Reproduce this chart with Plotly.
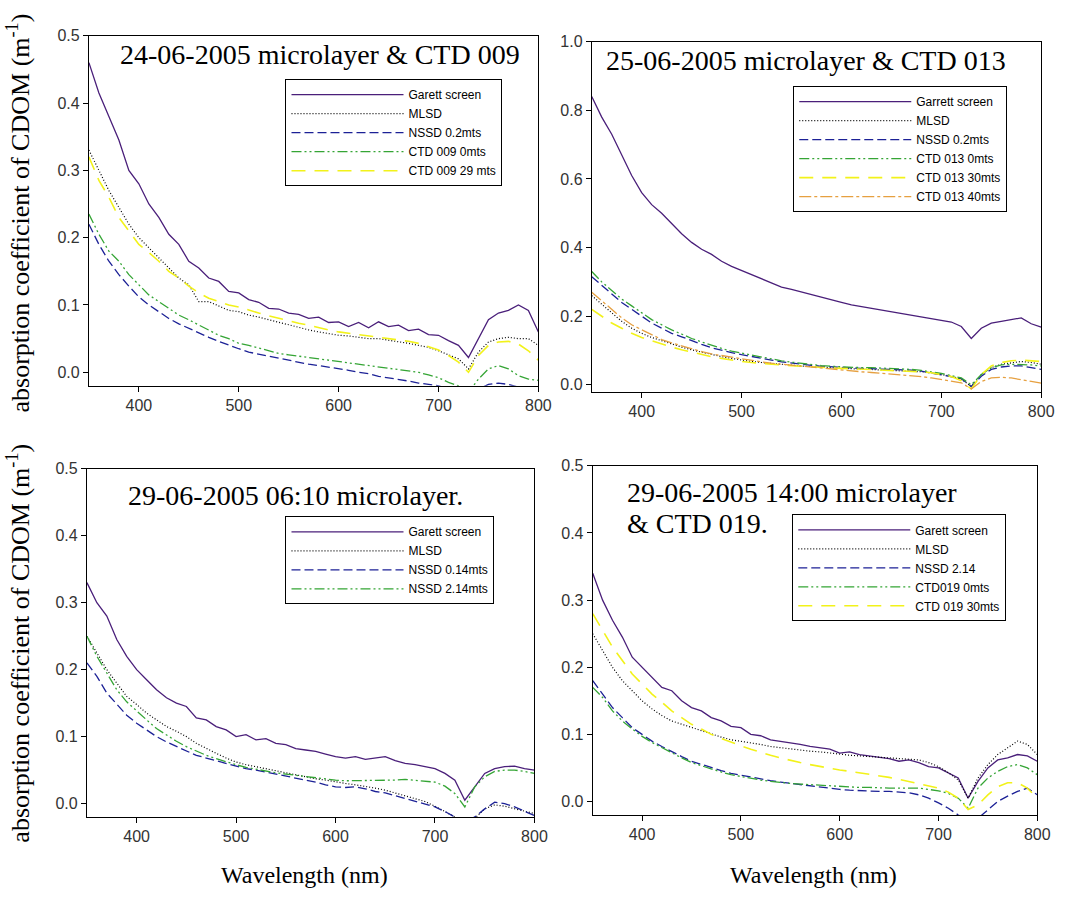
import plotly.graph_objects as go

# ---------------- data (every 10 nm) ----------------
wavelength = [350, 360, 370, 380, 390, 400, 410, 420, 430, 440,
              450, 460, 470, 480, 490, 500, 510, 520, 530, 540,
              550, 560, 570, 580, 590, 600, 610, 620, 630, 640,
              650, 660, 670, 680, 690, 700, 710, 720, 730, 740,
              750, 760, 770, 780, 790, 800]

# Panel 1: 24-06-2005 microlayer & CTD 009
p1_garett = [0.46, 0.415, 0.38, 0.345, 0.30, 0.28, 0.25, 0.23, 0.205, 0.19,
             0.165, 0.155, 0.14, 0.135, 0.12, 0.118, 0.108, 0.104, 0.095, 0.094,
             0.088, 0.086, 0.08, 0.082, 0.074, 0.075, 0.068, 0.074, 0.066, 0.075,
             0.068, 0.07, 0.062, 0.064, 0.056, 0.055, 0.047, 0.04, 0.022, 0.05,
             0.078, 0.088, 0.092, 0.1, 0.092, 0.06]
p1_mlsd = [0.33, 0.30, 0.27, 0.245, 0.22, 0.20, 0.185, 0.17, 0.155, 0.14,
           0.13, 0.105, 0.105, 0.098, 0.092, 0.09, 0.085, 0.082, 0.078, 0.074,
           0.07, 0.066, 0.063, 0.06, 0.057, 0.055, 0.054, 0.052, 0.05, 0.05,
           0.048, 0.045, 0.043, 0.04, 0.037, 0.032, 0.026, 0.02, 0.005, 0.03,
           0.045, 0.05, 0.052, 0.05, 0.05, 0.04]
p1_nssd = [0.22, 0.19, 0.165, 0.145, 0.128, 0.112, 0.1, 0.09, 0.08, 0.072,
           0.065, 0.058, 0.052, 0.046, 0.04, 0.035, 0.03, 0.027, 0.023, 0.02,
           0.018, 0.015, 0.012, 0.01, 0.008, 0.006, 0.003, 0.0, -0.002, -0.006,
           -0.008, -0.01, -0.013, -0.016, -0.018, -0.02, -0.025, -0.03, -0.035, -0.025,
           -0.018, -0.016, -0.018, -0.022, -0.025, -0.025]
p1_ctd0 = [0.235, 0.205, 0.18, 0.165, 0.145, 0.13, 0.115, 0.105, 0.095, 0.085,
           0.078, 0.07, 0.062, 0.055, 0.05, 0.043, 0.04, 0.036, 0.032, 0.028,
           0.026, 0.024, 0.022, 0.02, 0.018, 0.017, 0.014, 0.013, 0.011, 0.008,
           0.006, 0.004, 0.002, 0.0, -0.004, -0.008, -0.015, -0.02, -0.03, -0.01,
           0.005, 0.01, 0.005, -0.005, -0.01, -0.012]
p1_ctd29 = [0.32, 0.285, 0.26, 0.23, 0.21, 0.19, 0.178, 0.165, 0.15, 0.14,
            0.128, 0.118, 0.11, 0.105, 0.1, 0.097, 0.092, 0.088, 0.084, 0.08,
            0.076, 0.073, 0.07, 0.066, 0.063, 0.06, 0.058, 0.057, 0.055, 0.053,
            0.05, 0.048, 0.046, 0.043, 0.038, 0.033, 0.025, 0.015, 0.0, 0.025,
            0.04, 0.045, 0.046, 0.042, 0.032, 0.018]

# Panel 2: 25-06-2005 microlayer & CTD 013
p2_garett = [0.84, 0.78, 0.73, 0.67, 0.61, 0.56, 0.525, 0.5, 0.47, 0.44,
             0.415, 0.395, 0.38, 0.36, 0.345, 0.333, 0.322, 0.31, 0.298, 0.285,
             0.278, 0.27, 0.262, 0.255, 0.248, 0.24, 0.233, 0.228, 0.224, 0.218,
             0.213, 0.208, 0.205, 0.2, 0.195, 0.19, 0.183, 0.17, 0.135, 0.165,
             0.18, 0.185, 0.19, 0.195, 0.178, 0.168]
p2_mlsd = [0.26, 0.235, 0.21, 0.185, 0.165, 0.15, 0.138, 0.128, 0.118, 0.11,
           0.102, 0.095, 0.088, 0.082, 0.077, 0.072, 0.068, 0.065, 0.062, 0.059,
           0.057, 0.055, 0.053, 0.051, 0.05, 0.048, 0.047, 0.046, 0.045, 0.044,
           0.043, 0.042, 0.04, 0.038, 0.035, 0.03, 0.025, 0.017, -0.005, 0.03,
           0.05, 0.06, 0.065, 0.068, 0.065, 0.06]
p2_nssd = [0.315, 0.29, 0.265, 0.24, 0.22, 0.2, 0.18, 0.165, 0.15, 0.14,
           0.128, 0.118, 0.108, 0.1, 0.094, 0.088, 0.082, 0.077, 0.072, 0.067,
           0.063, 0.06, 0.057, 0.054, 0.052, 0.05, 0.049, 0.048, 0.047, 0.046,
           0.046, 0.045, 0.043, 0.04, 0.035, 0.03, 0.025, 0.018, -0.005, 0.025,
           0.045, 0.052, 0.055, 0.055, 0.05, 0.045]
p2_ctd0 = [0.33, 0.30, 0.275, 0.25, 0.23, 0.21, 0.19, 0.175, 0.16, 0.148,
           0.135, 0.125, 0.115, 0.106, 0.098, 0.092, 0.086, 0.08, 0.075, 0.07,
           0.066, 0.062, 0.059, 0.056, 0.054, 0.052, 0.051, 0.05, 0.05, 0.049,
           0.048, 0.047, 0.045, 0.042, 0.038, 0.033, 0.027, 0.02, 0.0, 0.03,
           0.05, 0.058, 0.06, 0.06, 0.058, 0.055]
p2_ctd30 = [0.22, 0.2, 0.18, 0.165, 0.15, 0.138, 0.128, 0.118, 0.11, 0.102,
            0.095, 0.088, 0.082, 0.077, 0.072, 0.068, 0.065, 0.062, 0.06, 0.058,
            0.056, 0.054, 0.052, 0.05, 0.049, 0.048, 0.047, 0.046, 0.045, 0.044,
            0.043, 0.042, 0.04, 0.038, 0.035, 0.03, 0.024, 0.012, -0.012, 0.03,
            0.055, 0.065, 0.07, 0.072, 0.07, 0.068]
p2_ctd40 = [0.27, 0.245, 0.22, 0.195, 0.175, 0.16, 0.145, 0.132, 0.122, 0.113,
            0.105, 0.097, 0.09, 0.085, 0.08, 0.075, 0.071, 0.067, 0.063, 0.06,
            0.057, 0.054, 0.051, 0.048, 0.045, 0.043, 0.04, 0.038, 0.036, 0.034,
            0.032, 0.03, 0.027, 0.024, 0.02, 0.016, 0.012, 0.006, -0.012, 0.01,
            0.02, 0.022, 0.02, 0.016, 0.01, 0.005]

# Panel 3: 29-06-2005 06:10 microlayer
p3_garett = [0.33, 0.3, 0.28, 0.245, 0.22, 0.2, 0.185, 0.17, 0.158, 0.15,
             0.145, 0.128, 0.125, 0.115, 0.11, 0.1, 0.103, 0.095, 0.097, 0.09,
             0.088, 0.082, 0.08, 0.078, 0.074, 0.07, 0.068, 0.07, 0.066, 0.068,
             0.07, 0.064, 0.06, 0.058, 0.055, 0.052, 0.045, 0.035, 0.005, 0.025,
             0.045, 0.052, 0.055, 0.056, 0.052, 0.05]
p3_mlsd = [0.25, 0.225, 0.2, 0.18, 0.16, 0.148, 0.135, 0.125, 0.115, 0.108,
           0.1, 0.09, 0.082, 0.075, 0.068, 0.062, 0.058, 0.055, 0.052, 0.048,
           0.046, 0.043, 0.04, 0.037, 0.035, 0.032, 0.03, 0.028, 0.026, 0.023,
           0.02, 0.016, 0.012, 0.008, 0.003, -0.004, -0.012, -0.02, -0.03, -0.022,
           -0.008, -0.002, -0.004, -0.008, -0.012, -0.015]
p3_nssd014 = [0.21, 0.19, 0.165, 0.148, 0.132, 0.12, 0.11, 0.1, 0.092, 0.085,
              0.078, 0.072, 0.068, 0.064, 0.06, 0.056, 0.052, 0.05, 0.047, 0.044,
              0.042, 0.038, 0.035, 0.032, 0.028, 0.025, 0.024, 0.025, 0.022, 0.018,
              0.016, 0.012, 0.008, 0.004, 0.0, -0.005, -0.012, -0.02, -0.028, -0.02,
              -0.008, 0.002, 0.0, -0.005, -0.012, -0.018]
p3_nssd214 = [0.25, 0.22, 0.195, 0.17, 0.152, 0.138, 0.125, 0.112, 0.102, 0.093,
              0.085, 0.078, 0.072, 0.067, 0.062, 0.058, 0.054, 0.051, 0.048, 0.046,
              0.044, 0.042, 0.04, 0.038, 0.036, 0.035, 0.034, 0.034, 0.035, 0.034,
              0.034, 0.035, 0.036, 0.035, 0.034, 0.032, 0.026, 0.015, -0.005, 0.025,
              0.04, 0.048, 0.05, 0.05, 0.048, 0.045]

# Panel 4: 29-06-2005 14:00 microlayer & CTD 019
p4_garett = [0.34, 0.3, 0.27, 0.245, 0.215, 0.2, 0.185, 0.17, 0.165, 0.15,
             0.14, 0.135, 0.125, 0.12, 0.112, 0.11, 0.1, 0.098, 0.092, 0.09,
             0.088, 0.085, 0.082, 0.08, 0.078, 0.072, 0.074, 0.07, 0.068, 0.066,
             0.064, 0.06, 0.062, 0.058, 0.052, 0.05, 0.043, 0.035, 0.005, 0.03,
             0.05, 0.062, 0.065, 0.07, 0.068, 0.06]
p4_mlsd = [0.25, 0.225, 0.2, 0.18, 0.165, 0.15, 0.138, 0.128, 0.12, 0.115,
           0.11, 0.105, 0.1, 0.096, 0.092, 0.09, 0.087, 0.085, 0.082, 0.08,
           0.078, 0.077, 0.075, 0.074, 0.072, 0.07, 0.069, 0.068, 0.067, 0.066,
           0.065, 0.064, 0.063, 0.062, 0.058, 0.052, 0.043, 0.032, 0.005, 0.035,
           0.055, 0.07, 0.08, 0.09, 0.085, 0.07]
p4_nssd = [0.18, 0.16, 0.14, 0.125, 0.11, 0.1, 0.09, 0.082, 0.074, 0.067,
           0.06, 0.055, 0.05, 0.046, 0.042, 0.039, 0.036, 0.033, 0.031, 0.029,
           0.027, 0.025, 0.023, 0.022, 0.02, 0.018, 0.017, 0.016, 0.016, 0.015,
           0.015, 0.014, 0.013, 0.01, 0.005, -0.002, -0.01, -0.02, -0.028, -0.025,
           -0.012, 0.0, 0.008, 0.015, 0.02, 0.01]
p4_ctd0 = [0.17, 0.155, 0.135, 0.12, 0.108, 0.097, 0.088, 0.08, 0.072, 0.065,
           0.058, 0.053, 0.048, 0.044, 0.04, 0.037, 0.034, 0.032, 0.03, 0.028,
           0.027, 0.026, 0.025, 0.024, 0.023, 0.022, 0.022, 0.021, 0.021, 0.02,
           0.02, 0.02, 0.02, 0.02, 0.018, 0.016, 0.012, 0.005, -0.01, 0.02,
           0.035, 0.045, 0.052, 0.055, 0.05, 0.04]
p4_ctd30 = [0.28, 0.255, 0.23, 0.21, 0.19, 0.175, 0.16, 0.148, 0.135, 0.125,
            0.115, 0.108, 0.1, 0.094, 0.088, 0.083, 0.078, 0.073, 0.069, 0.065,
            0.061, 0.058, 0.055, 0.052, 0.05, 0.047, 0.045, 0.043, 0.04, 0.038,
            0.036, 0.033, 0.03, 0.027, 0.024, 0.02, 0.014, 0.005, -0.012, -0.005,
            0.01, 0.022, 0.028, 0.028, 0.02, 0.005]

# ---------------- styles ----------------
PURPLE = "#4a1f7a"
BLUE = "#1c2196"
GREEN = "#35a535"
YELLOW = "#f2f21a"
ORANGE = "#e6a040"
BLACK = "#000000"

STY = {
    "garett": dict(color=PURPLE, dash="solid", width=1.3),
    "mlsd": dict(color=BLACK, dash="1px,2px", width=1.2),
    "nssd": dict(color=BLUE, dash="9px,4px", width=1.3),
    "ctd0": dict(color=GREEN, dash="10px,3px,2px,3px,2px,3px", width=1.3),
    "ctdy": dict(color=YELLOW, dash="14px,9px", width=1.6),
    "ctdo": dict(color=ORANGE, dash="12px,3px,3px,3px", width=1.3),
}

panels = [
    dict(n=1, legend="legend", series=[
        ("Garett screen", p1_garett, "garett"),
        ("MLSD", p1_mlsd, "mlsd"),
        ("NSSD 0.2mts", p1_nssd, "nssd"),
        ("CTD 009 0mts", p1_ctd0, "ctd0"),
        ("CTD 009 29 mts", p1_ctd29, "ctdy"),
    ]),
    dict(n=2, legend="legend2", series=[
        ("Garrett screen", p2_garett, "garett"),
        ("MLSD", p2_mlsd, "mlsd"),
        ("NSSD 0.2mts", p2_nssd, "nssd"),
        ("CTD 013 0mts", p2_ctd0, "ctd0"),
        ("CTD 013 30mts", p2_ctd30, "ctdy"),
        ("CTD 013 40mts", p2_ctd40, "ctdo"),
    ]),
    dict(n=3, legend="legend3", series=[
        ("Garett screen", p3_garett, "garett"),
        ("MLSD", p3_mlsd, "mlsd"),
        ("NSSD 0.14mts", p3_nssd014, "nssd"),
        ("NSSD 2.14mts", p3_nssd214, "ctd0"),
    ]),
    dict(n=4, legend="legend4", series=[
        ("Garett screen", p4_garett, "garett"),
        ("MLSD", p4_mlsd, "mlsd"),
        ("NSSD 2.14", p4_nssd, "nssd"),
        ("CTD019 0mts", p4_ctd0, "ctd0"),
        ("CTD 019 30mts", p4_ctd30, "ctdy"),
    ]),
]

fig = go.Figure()
for p in panels:
    sfx = "" if p["n"] == 1 else str(p["n"])
    for name, vals, key in p["series"]:
        fig.add_trace(go.Scatter(
            x=wavelength, y=vals, name=name, mode="lines",
            line=STY[key], xaxis="x" + sfx, yaxis="y" + sfx,
            legend=p["legend"], showlegend=True,
        ))

W, H = 1072, 902
# plot-area pixel boxes (left, right, top, bottom)
boxes = {1: (90, 545, 28, 382), 2: (599, 1054, 34, 388),
         3: (88, 541, 466, 818), 4: (600, 1050, 463, 816)}
yranges = {1: [-0.02, 0.5], 2: [-0.02, 1.0], 3: [-0.02, 0.5], 4: [-0.02, 0.5]}
ydticks = {1: 0.1, 2: 0.2, 3: 0.1, 4: 0.1}

tickfont = dict(family="Liberation Sans, Arial, sans-serif", size=16, color="#333333")
layout = dict(width=W, height=H, margin=dict(l=0, r=0, t=0, b=0),
              paper_bgcolor="white", plot_bgcolor="white", showlegend=True)
for n, (l, r, t, b) in boxes.items():
    sfx = "" if n == 1 else str(n)
    layout["xaxis" + sfx] = dict(
        domain=[l / W, r / W], anchor="y" + sfx, range=[350, 800],
        tickvals=[400, 500, 600, 700, 800], ticks="outside", ticklen=5,
        tickcolor="black", showline=True, mirror=True, linecolor="black",
        linewidth=1, showgrid=False, zeroline=False, tickfont=tickfont)
    layout["yaxis" + sfx] = dict(
        domain=[1 - b / H, 1 - t / H], anchor="x" + sfx, range=yranges[n],
        tick0=0, dtick=ydticks[n], tickformat=".1f", ticks="outside", ticklen=5,
        tickcolor="black", showline=True, mirror=True, linecolor="black",
        linewidth=1, showgrid=False, zeroline=False, tickfont=tickfont)

legfont = dict(family="Liberation Sans, Arial, sans-serif", size=12, color="black")
leg_common = dict(bgcolor="white", bordercolor="black", borderwidth=1,
                  font=legfont, itemwidth=112, xanchor="left", yanchor="top",
                  tracegroupgap=0, itemclick=False, itemdoubleclick=False)
layout["legend"] = dict(x=289 / W, y=1 - 72 / H, **leg_common)
layout["legend2"] = dict(x=803 / W, y=1 - 79 / H, **leg_common)
layout["legend3"] = dict(x=289 / W, y=1 - 514 / H, **leg_common)
layout["legend4"] = dict(x=802 / W, y=1 - 512 / H, **leg_common)

serif = "Liberation Serif, Times New Roman, serif"
ann = [
    dict(text="24-06-2005 microlayer &amp; CTD 009", x=324 / W, y=1 - 47 / H,
         xanchor="center", yanchor="middle", font=dict(family=serif, size=28)),
    dict(text="25-06-2005 microlayer &amp; CTD 013", x=816 / W, y=1 - 53 / H,
         xanchor="center", yanchor="middle", font=dict(family=serif, size=28)),
    dict(text="29-06-2005 06:10 microlayer.", x=299 / W, y=1 - 493 / H,
         xanchor="center", yanchor="middle", font=dict(family=serif, size=28)),
    dict(text="29-06-2005 14:00 microlayer", x=633 / W, y=1 - 490 / H,
         xanchor="left", yanchor="middle", font=dict(family=serif, size=28)),
    dict(text="&amp; CTD 019.", x=633 / W, y=1 - 521 / H,
         xanchor="left", yanchor="middle", font=dict(family=serif, size=28)),
    dict(text="absorption coefficient of CDOM (m<sup>-1</sup>)", x=19 / W, y=1 - 207 / H,
         textangle=-90, xanchor="center", yanchor="middle",
         font=dict(family=serif, size=26)),
    dict(text="absorption coefficient of CDOM (m<sup>-1</sup>)", x=19 / W, y=1 - 642 / H,
         textangle=-90, xanchor="center", yanchor="middle",
         font=dict(family=serif, size=26)),
    dict(text="Wavelength (nm)", x=308 / W, y=1 - 877 / H,
         xanchor="center", yanchor="middle", font=dict(family=serif, size=24)),
    dict(text="Wavelength (nm)", x=823 / W, y=1 - 877 / H,
         xanchor="center", yanchor="middle", font=dict(family=serif, size=24)),
]
for a in ann:
    a.update(xref="paper", yref="paper", showarrow=False)
    a["font"]["color"] = "black"
layout["annotations"] = ann

fig.update_layout(**layout)
fig.write_html("out.html")
